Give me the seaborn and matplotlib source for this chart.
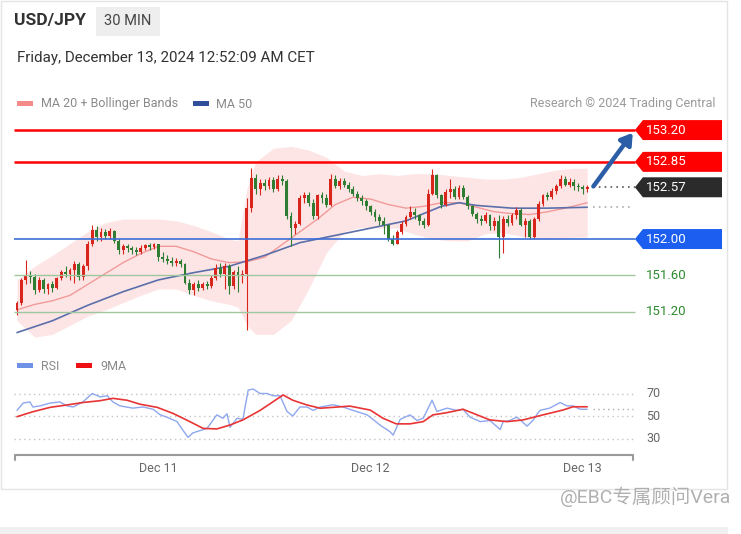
"""USD/JPY 30 min chart with Bollinger bands, key levels and RSI panel"""

import matplotlib

matplotlib.use("Agg")
import matplotlib.pyplot as plt
import numpy as np
import seaborn as sns
from matplotlib.patches import Polygon, Rectangle

W, H = 741, 534

# %% Data, one candle per 30 min from Dec 10 08:00

opens = [
    151.22, 151.30, 151.55, 151.60, 151.58, 151.44, 151.55, 151.45, 151.50, 151.46,
    151.57, 151.64, 151.62, 151.66, 151.72, 151.58, 151.70, 151.95, 152.10, 152.02,
    152.08, 152.03, 152.09, 151.98, 151.88, 151.92, 151.90, 151.88, 151.86, 151.90,
    151.93, 151.91, 151.94, 151.80, 151.78, 151.76, 151.74, 151.76, 151.72, 151.52,
    151.44, 151.50, 151.46, 151.50, 151.48, 151.57, 151.68, 151.62, 151.70, 151.48,
    151.64, 151.60, 151.62, 152.34, 152.67, 152.55, 152.62, 152.58, 152.65, 152.55,
    152.66, 152.64, 152.25, 152.12, 152.17, 152.45, 152.48, 152.40, 152.25, 152.48,
    152.45, 152.38, 152.66, 152.58, 152.64, 152.60, 152.55, 152.50, 152.45, 152.42,
    152.36, 152.30, 152.24, 152.20, 152.15, 152.00, 151.95, 152.08, 152.17, 152.24,
    152.30, 152.26, 152.20, 152.16, 152.50, 152.70, 152.48, 152.38, 152.52, 152.55,
    152.46, 152.56, 152.46, 152.36, 152.28, 152.22, 152.20, 152.26, 152.14, 152.20,
    152.02, 152.22, 152.18, 152.26, 152.32, 152.16, 152.20, 152.02, 152.22, 152.39,
    152.48, 152.46, 152.53, 152.58, 152.66, 152.60, 152.63, 152.58, 152.57, 152.55,
]
highs = [
    151.32, 151.57, 151.77, 151.65, 151.62, 151.58, 151.57, 151.52, 151.54, 151.58,
    151.66, 151.70, 151.68, 151.76, 151.75, 151.72, 151.98, 152.15, 152.14, 152.12,
    152.11, 152.12, 152.10, 152.00, 151.94, 151.94, 151.92, 151.91, 151.93, 151.95,
    151.96, 151.96, 151.95, 151.86, 151.82, 151.80, 151.79, 151.78, 151.74, 151.56,
    151.53, 151.55, 151.53, 151.54, 151.60, 151.72, 151.74, 151.74, 151.72, 151.66,
    151.70, 151.66, 152.45, 152.78, 152.72, 152.66, 152.66, 152.68, 152.68, 152.70,
    152.70, 152.66, 152.30, 152.20, 152.48, 152.52, 152.52, 152.44, 152.50, 152.52,
    152.50, 152.72, 152.70, 152.67, 152.67, 152.63, 152.58, 152.53, 152.48, 152.44,
    152.38, 152.33, 152.28, 152.24, 152.17, 152.04, 152.10, 152.20, 152.27, 152.36,
    152.34, 152.28, 152.23, 152.55, 152.77, 152.72, 152.50, 152.55, 152.66, 152.58,
    152.60, 152.60, 152.48, 152.38, 152.30, 152.26, 152.30, 152.28, 152.24, 152.26,
    152.25, 152.26, 152.29, 152.35, 152.34, 152.23, 152.22, 152.24, 152.42, 152.50,
    152.52, 152.56, 152.61, 152.70, 152.69, 152.67, 152.66, 152.62, 152.60, 152.60,
]
lows = [
    151.16, 151.27, 151.50, 151.52, 151.40, 151.42, 151.41, 151.40, 151.42, 151.45,
    151.55, 151.58, 151.55, 151.52, 151.55, 151.55, 151.66, 151.92, 151.98, 151.98,
    152.00, 152.00, 151.96, 151.84, 151.83, 151.86, 151.84, 151.82, 151.84, 151.88,
    151.88, 151.89, 151.76, 151.75, 151.72, 151.70, 151.70, 151.69, 151.50, 151.40,
    151.38, 151.43, 151.44, 151.45, 151.46, 151.55, 151.58, 151.45, 151.40, 151.45,
    151.42, 151.52, 151.00, 152.30, 152.50, 152.48, 152.54, 152.55, 152.52, 152.53,
    152.60, 152.22, 151.92, 152.05, 152.15, 152.40, 152.36, 152.22, 152.22, 152.40,
    152.35, 152.36, 152.56, 152.55, 152.57, 152.52, 152.47, 152.42, 152.38, 152.32,
    152.27, 152.20, 152.16, 152.05, 151.98, 151.93, 151.94, 152.05, 152.14, 152.22,
    152.22, 152.16, 152.12, 152.14, 152.48, 152.45, 152.34, 152.36, 152.45, 152.44,
    152.44, 152.44, 152.33, 152.25, 152.18, 152.16, 152.18, 152.10, 152.10, 151.79,
    151.85, 152.14, 152.15, 152.22, 152.14, 152.02, 152.00, 152.00, 152.20, 152.36,
    152.43, 152.44, 152.50, 152.56, 152.58, 152.57, 152.54, 152.53, 152.50, 152.52,
]
closes = [
    151.30, 151.55, 151.60, 151.58, 151.44, 151.55, 151.45, 151.50, 151.46, 151.57,
    151.64, 151.62, 151.66, 151.72, 151.58, 151.70, 151.95, 152.10, 152.02, 152.08,
    152.03, 152.09, 151.98, 151.88, 151.92, 151.90, 151.88, 151.86, 151.90, 151.93,
    151.91, 151.94, 151.80, 151.78, 151.76, 151.74, 151.76, 151.72, 151.52, 151.44,
    151.50, 151.46, 151.50, 151.48, 151.57, 151.68, 151.62, 151.70, 151.48, 151.64,
    151.60, 151.62, 152.34, 152.67, 152.55, 152.62, 152.58, 152.65, 152.55, 152.66,
    152.64, 152.25, 152.12, 152.17, 152.45, 152.48, 152.40, 152.25, 152.48, 152.45,
    152.38, 152.66, 152.58, 152.64, 152.60, 152.55, 152.50, 152.45, 152.42, 152.36,
    152.30, 152.24, 152.20, 152.15, 152.00, 151.95, 152.08, 152.17, 152.24, 152.30,
    152.26, 152.20, 152.16, 152.50, 152.70, 152.48, 152.38, 152.52, 152.55, 152.46,
    152.56, 152.46, 152.36, 152.28, 152.22, 152.20, 152.26, 152.14, 152.20, 152.02,
    152.22, 152.18, 152.26, 152.32, 152.16, 152.20, 152.02, 152.22, 152.39, 152.48,
    152.46, 152.53, 152.58, 152.66, 152.60, 152.63, 152.58, 152.57, 152.55, 152.57,
]

# Bollinger band edges, sampled at candle indices
band_idx = [0, 4, 8, 12, 16, 20, 24, 28, 32, 36, 40, 44, 48, 50, 52, 54, 58, 62,
            66, 70, 74, 78, 82, 86, 90, 94, 98, 102, 106, 110, 114, 118, 122, 126, 129]
band_upper = [151.55, 151.70, 151.82, 151.95, 152.08, 152.18, 152.22, 152.22, 152.22,
              152.20, 152.15, 152.08, 152.00, 151.98, 152.55, 152.85, 153.00, 153.02,
              152.98, 152.90, 152.75, 152.70, 152.72, 152.70, 152.72, 152.72, 152.70,
              152.68, 152.66, 152.66, 152.68, 152.72, 152.76, 152.78, 152.78]
band_lower = [151.10, 150.92, 150.95, 151.05, 151.15, 151.22, 151.30, 151.38, 151.45,
              151.45, 151.38, 151.32, 151.28, 151.25, 151.05, 150.95, 150.95, 151.10,
              151.45, 151.85, 152.08, 152.13, 152.12, 152.12, 152.05, 152.00, 151.98,
              151.98, 152.06, 152.07, 152.03, 152.00, 152.00, 152.02, 152.02]

ma20_idx = [0, 4, 8, 12, 16, 20, 24, 28, 32, 36, 40, 44, 48, 52, 56, 60, 64, 68, 72,
            76, 80, 84, 88, 92, 96, 100, 104, 108, 112, 116, 120, 124, 129]
ma20 = [151.22, 151.28, 151.32, 151.38, 151.50, 151.62, 151.74, 151.84, 151.92,
        151.92, 151.86, 151.78, 151.74, 151.75, 151.80, 151.94, 152.08, 152.22,
        152.38, 152.46, 152.44, 152.38, 152.34, 152.36, 152.40, 152.40, 152.35,
        152.30, 152.28, 152.27, 152.30, 152.34, 152.40]

ma50_idx = [0, 8, 16, 24, 32, 40, 48, 56, 64, 72, 80, 88, 96, 100, 104, 112, 120, 129]
ma50 = [150.97, 151.10, 151.27, 151.42, 151.55, 151.63, 151.70, 151.82, 151.96,
        152.04, 152.12, 152.20, 152.36, 152.40, 152.37, 152.34, 152.34, 152.35]

rsi_idx = [0, 1.4, 2.9, 3.6, 5.2, 7.5, 9.7, 11.3, 12.7, 14.9, 17, 18.8, 20.4, 21.7,
           23.3, 26.2, 28.5, 30.8, 32.4, 33.9, 36.2, 37.6, 38.7, 39.8, 41.4, 43, 45.2,
           46.6, 47.5, 48.2, 49.8, 51.1, 52.3, 53.4, 55, 56.6, 57.9, 59.5, 61.1, 62.4,
           64, 65.6, 67, 68.6, 71.5, 73.8, 76, 77.6, 79.2, 79.9, 82.1, 84.4, 85.1,
           86.7, 88.9, 90.5, 91.9, 93.9, 95, 97.3, 99.5, 100.9, 102.5, 104.8, 107,
           109.3, 110, 111.5, 113.1, 115.4, 116.7, 118.3, 120.5, 122.9, 124.4, 125.8,
           127.4, 129]
rsi = [55, 61.5, 62.5, 58, 59, 61.5, 62.5, 59, 58, 62.5, 70, 67, 68, 62.5, 59, 57, 58,
       56, 51, 49, 45, 37, 31, 35, 37, 39, 51, 48, 52, 40, 48, 47, 73, 74, 70, 70, 68,
       68, 54, 50, 58, 58, 55, 58, 60, 58, 55, 53, 51, 49, 42, 36, 33, 47, 51, 46, 48,
       64, 54, 57, 55, 56, 49, 45, 46, 38, 45, 46, 49, 41, 46, 55, 57, 62, 59, 59, 56,
       56]

rsi_ma_idx = [0, 3.6, 7.5, 11.3, 14.9, 18.8, 21.7, 24.9, 27.8, 31.7, 35.3, 39.1,
              42.1, 45.2, 48.2, 51.1, 55, 57.9, 60.2, 62.4, 65.6, 68.6, 71.5, 75.3,
              79.2, 79.9, 82.8, 85.8, 88.9, 91.9, 94.1, 97.3, 100.9, 104.1, 107, 110.9,
              114.5, 119, 123.5, 125.8, 129]
rsi_ma = [49.4, 53.8, 57.7, 59.8, 62, 63.6, 65.7, 64, 60.5, 57.7, 52.3, 45, 39, 38.5,
          42, 46.5, 55, 62.6, 68.7, 64, 59.8, 56.9, 57.7, 58.8, 55.8, 55.3, 48, 43, 43,
          45, 51, 53, 56, 51, 46.5, 45, 46.5, 51, 55.3, 58.2, 58.2]

levels_red = [153.20, 152.85]
level_last = 152.57
level_blue = 152.00
levels_green = [151.60, 151.20]
rsi_levels = [70, 50, 30]
day_idx = [32, 80, 128]
day_labels = ["Dec 11", "Dec 12", "Dec 13"]

# %% Figure

sns.set_theme(style="white")
plt.rcParams["font.family"] = ["Roboto", "Noto Sans CJK SC", "DejaVu Sans"]

fig = plt.figure(figsize=(W / 100, H / 100), dpi=100)
fig.patch.set_facecolor("white")


def rect(x0, y0, x1, y1):
    return [x0 / W, 1 - y1 / H, (x1 - x0) / W, (y1 - y0) / H]


def ftext(x, y, s, **kw):
    kw.setdefault("va", "center")
    fig.text(x / W, 1 - y / H, s, **kw)


def fbox(x0, y0, x1, y1, **kw):
    kw.setdefault("zorder", -10)
    fig.add_artist(Rectangle((x0 / W, 1 - y1 / H), (x1 - x0) / W, (y1 - y0) / H,
                             transform=fig.transFigure, **kw))


# card + page decoration
fbox(1, 0.5, 727, 489, facecolor="white", edgecolor="#e4e4e4", lw=1, zorder=-20)
fbox(0, 527, 728, 534, facecolor="#f0f0f0", edgecolor="none")

ftext(14, 21, "USD/JPY", fontsize=12.5, fontweight="bold", color="#333333")
fbox(96, 7, 160, 36, facecolor="#eeeeee", edgecolor="none")
ftext(128, 21, "30 MIN", fontsize=10.5, color="#444444", ha="center")
ftext(17, 58, "Friday, December 13, 2024 12:52:09 AM CET", fontsize=10.9, color="#333333")

fbox(17, 101, 33, 106, facecolor="#f48a8a", edgecolor="none")
ftext(41, 104, "MA 20 + Bollinger Bands", fontsize=9, color="#8a8a8a")
fbox(193, 101, 209, 106, facecolor="#2f4f9a", edgecolor="none")
ftext(216, 104, "MA 50", fontsize=9, color="#8a8a8a")
ftext(715, 104, "Research © 2024 Trading Central", fontsize=9, color="#9a9a9a", ha="right")

fbox(17, 363, 33, 368, facecolor="#6f92e6", edgecolor="none")
ftext(41, 366, "RSI", fontsize=9, color="#8a8a8a")
fbox(76, 363, 92, 368, facecolor="#ee1111", edgecolor="none")
ftext(100, 366, "9MA", fontsize=9, color="#8a8a8a")

ftext(560, 497, "@EBC专属顾问Vera", fontsize=14, color="#b0b0b0")

# %% Price panel

ax = fig.add_axes(rect(14, 118, 722, 345))
ax.set_xlim(-0.68, 159.5)
ax.set_ylim(150.833, 153.333)
ax.axis("off")

ax.fill_between(band_idx, band_lower, band_upper, color="#fde5e5", lw=0, zorder=1)
sns.lineplot(x=ma20_idx, y=ma20, ax=ax, color="#f29a9a", lw=1, zorder=2)
sns.lineplot(x=ma50_idx, y=ma50, ax=ax, color="#5b6faa", lw=1.2, zorder=2)

o, h, l, c = map(np.asarray, (opens, highs, lows, closes))
idx = np.arange(len(c))
cols = np.where(c >= o, "#d9261c", "#2e7d32")
ax.vlines(idx, l, h, colors=cols, lw=0.8, zorder=3)
ax.bar(idx, np.maximum(np.abs(c - o), 0.012), bottom=np.minimum(o, c), width=0.65,
       color=cols, lw=0, zorder=4)

x_end = 139.8
dy = 0.11


def tag(y, color, label):
    pts = [(x_end, y), (141.6, y + dy), (159.5, y + dy), (159.5, y - dy), (141.6, y - dy)]
    ax.add_patch(Polygon(pts, closed=True, facecolor=color, edgecolor="none",
                         clip_on=False, zorder=6))
    ax.text(142.4, y, label, color="white", fontsize=9.5, va="center", zorder=7)


for lv in levels_red:
    ax.hlines(lv, -0.68, x_end, colors="#ff0000", lw=1.8, zorder=5)
    tag(lv, "#ff0000", f"{lv:.2f}")

ax.hlines(level_blue, -0.68, x_end, colors="#3d6fd6", lw=1.2, zorder=5)
tag(level_blue, "#1c5ff0", f"{level_blue:.2f}")

ax.hlines(level_last, 130.3, x_end, colors="#555555", lw=1.2, linestyles=(0, (1, 2.5)), zorder=5)
tag(level_last, "#2b2b2b", f"{level_last:.2f}")
ax.hlines(ma50[-1], 130.3, x_end - 0.5, colors="#aaaaaa", lw=1.2, linestyles=(0, (1, 2.5)), zorder=5)

for lv in levels_green:
    ax.hlines(lv, -0.68, x_end, colors="#9fc79f", lw=1, zorder=5)
    ax.text(142.4, lv, f"{lv:.2f}", color="#2e8b2e", fontsize=9.5, va="center")

ax.annotate("", xy=(139.3, 153.17), xytext=(130.4, 152.58),
            arrowprops=dict(arrowstyle="-|>,head_length=0.55,head_width=0.35",
                            color="#2c5ea8", lw=3.2, shrinkA=0, shrinkB=0), zorder=8)

# %% RSI panel

rax = fig.add_axes(rect(14, 380, 722, 480))
rax.set_xlim(-0.68, 159.5)
rax.set_ylim(50 - (480 - 416) / 1.125, 50 + (416 - 380) / 1.125)
rax.axis("off")

rax.hlines(rsi_levels, -0.68, x_end, colors="#c4c4c4", lw=1, linestyles=(0, (1, 2.5)))
for lv in rsi_levels:
    rax.text(142.4, lv, str(lv), color="#666666", fontsize=9, va="center")
rax.hlines(rsi[-1], 130.3, x_end - 0.5, colors="#aaaaaa", lw=1, linestyles=(0, (1, 2.5)))

sns.lineplot(x=rsi_idx, y=rsi, ax=rax, color="#8ea7ee", lw=1)
sns.lineplot(x=rsi_ma_idx, y=rsi_ma, ax=rax, color="#e83434", lw=1.2)

base = 50 - (455 - 416) / 1.125
tick = 5 / 1.125
rax.plot([-0.4, -0.4, 139.3, 139.3], [base - tick, base, base, base - tick],
         color="#9a9a9a", lw=1.5, clip_on=False)
for d, lab in zip(day_idx, day_labels):
    rax.text(d, 50 - (469 - 416) / 1.125, lab, color="#666666", fontsize=9,
             ha="center", va="center")

fig.savefig("out.png", dpi=100)
